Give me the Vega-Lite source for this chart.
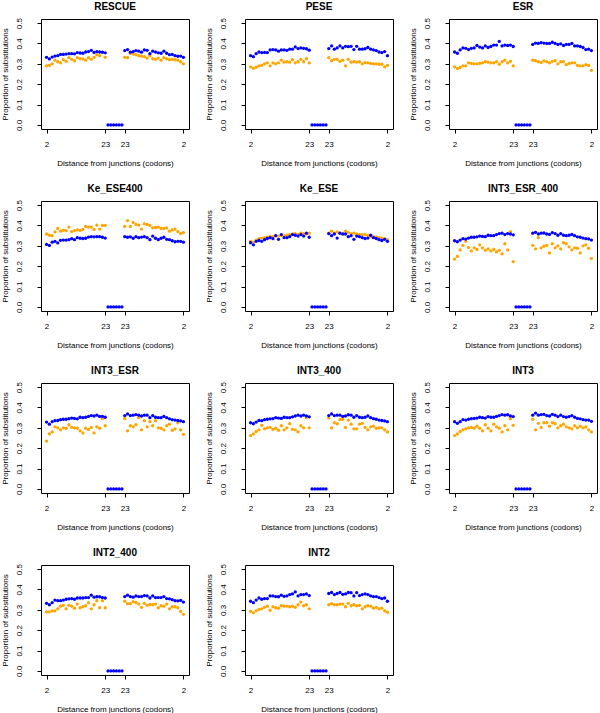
{
"$schema":"https://vega.github.io/schema/vega-lite/v6.json",
"background":"white",
"padding":{"left":0,"top":1,"right":0,"bottom":0},
"data":{"values":[
{"p":"RESCUE","i":0,"b":0.332,"o":0.290},{"p":"RESCUE","i":1,"b":0.324,"o":0.292},{"p":"RESCUE","i":2,"b":0.333,"o":0.300},{"p":"RESCUE","i":3,"b":0.338,"o":0.318},{"p":"RESCUE","i":4,"b":0.340,"o":0.310},{"p":"RESCUE","i":5,"b":0.346,"o":0.305},{"p":"RESCUE","i":6,"b":0.346,"o":0.320},{"p":"RESCUE","i":7,"b":0.348,"o":0.312},{"p":"RESCUE","i":8,"b":0.350,"o":0.330},{"p":"RESCUE","i":9,"b":0.350,"o":0.322},{"p":"RESCUE","i":10,"b":0.349,"o":0.315},{"p":"RESCUE","i":11,"b":0.355,"o":0.330},{"p":"RESCUE","i":12,"b":0.353,"o":0.325},{"p":"RESCUE","i":13,"b":0.352,"o":0.324},{"p":"RESCUE","i":14,"b":0.358,"o":0.318},{"p":"RESCUE","i":15,"b":0.360,"o":0.330},{"p":"RESCUE","i":16,"b":0.366,"o":0.322},{"p":"RESCUE","i":17,"b":0.356,"o":0.332},{"p":"RESCUE","i":18,"b":0.360,"o":0.345},{"p":"RESCUE","i":19,"b":0.358,"o":0.340},{"p":"RESCUE","i":20,"b":0.357,"o":0.355},{"p":"RESCUE","i":21,"b":0.354,"o":0.332},
{"p":"RESCUE","i":22,"b":0},{"p":"RESCUE","i":23,"b":0},{"p":"RESCUE","i":24,"b":0},{"p":"RESCUE","i":25,"b":0},{"p":"RESCUE","i":26,"b":0},{"p":"RESCUE","i":27,"b":0},
{"p":"RESCUE","i":28,"b":0.365,"o":0.332},{"p":"RESCUE","i":29,"b":0.370,"o":0.330},{"p":"RESCUE","i":30,"b":0.357,"o":0.352},{"p":"RESCUE","i":31,"b":0.360,"o":0.348},{"p":"RESCUE","i":32,"b":0.365,"o":0.345},{"p":"RESCUE","i":33,"b":0.362,"o":0.340},{"p":"RESCUE","i":34,"b":0.357,"o":0.338},{"p":"RESCUE","i":35,"b":0.368,"o":0.335},{"p":"RESCUE","i":36,"b":0.366,"o":0.328},{"p":"RESCUE","i":37,"b":0.350,"o":0.340},{"p":"RESCUE","i":38,"b":0.362,"o":0.325},{"p":"RESCUE","i":39,"b":0.358,"o":0.322},{"p":"RESCUE","i":40,"b":0.354,"o":0.328},{"p":"RESCUE","i":41,"b":0.352,"o":0.318},{"p":"RESCUE","i":42,"b":0.362,"o":0.330},{"p":"RESCUE","i":43,"b":0.352,"o":0.325},{"p":"RESCUE","i":44,"b":0.345,"o":0.320},{"p":"RESCUE","i":45,"b":0.346,"o":0.322},{"p":"RESCUE","i":46,"b":0.340,"o":0.320},{"p":"RESCUE","i":47,"b":0.337,"o":0.318},{"p":"RESCUE","i":48,"b":0.338,"o":0.310},{"p":"RESCUE","i":49,"b":0.332,"o":0.300},

{"p":"PESE","i":0,"b":0.340,"o":0.285},{"p":"PESE","i":1,"b":0.335,"o":0.278},{"p":"PESE","i":2,"b":0.350,"o":0.283},{"p":"PESE","i":3,"b":0.358,"o":0.290},{"p":"PESE","i":4,"b":0.355,"o":0.292},{"p":"PESE","i":5,"b":0.356,"o":0.300},{"p":"PESE","i":6,"b":0.355,"o":0.305},{"p":"PESE","i":7,"b":0.368,"o":0.290},{"p":"PESE","i":8,"b":0.370,"o":0.305},{"p":"PESE","i":9,"b":0.368,"o":0.300},{"p":"PESE","i":10,"b":0.362,"o":0.305},{"p":"PESE","i":11,"b":0.368,"o":0.318},{"p":"PESE","i":12,"b":0.368,"o":0.308},{"p":"PESE","i":13,"b":0.366,"o":0.310},{"p":"PESE","i":14,"b":0.372,"o":0.308},{"p":"PESE","i":15,"b":0.372,"o":0.320},{"p":"PESE","i":16,"b":0.383,"o":0.305},{"p":"PESE","i":17,"b":0.375,"o":0.310},{"p":"PESE","i":18,"b":0.378,"o":0.322},{"p":"PESE","i":19,"b":0.376,"o":0.310},{"p":"PESE","i":20,"b":0.374,"o":0.325},{"p":"PESE","i":21,"b":0.367,"o":0.305},
{"p":"PESE","i":22,"b":0},{"p":"PESE","i":23,"b":0},{"p":"PESE","i":24,"b":0},{"p":"PESE","i":25,"b":0},{"p":"PESE","i":26,"b":0},{"p":"PESE","i":27,"b":0},
{"p":"PESE","i":28,"b":0.375,"o":0.330},{"p":"PESE","i":29,"b":0.388,"o":0.315},{"p":"PESE","i":30,"b":0.372,"o":0.322},{"p":"PESE","i":31,"b":0.378,"o":0.322},{"p":"PESE","i":32,"b":0.388,"o":0.312},{"p":"PESE","i":33,"b":0.378,"o":0.318},{"p":"PESE","i":34,"b":0.386,"o":0.290},{"p":"PESE","i":35,"b":0.384,"o":0.322},{"p":"PESE","i":36,"b":0.386,"o":0.308},{"p":"PESE","i":37,"b":0.370,"o":0.310},{"p":"PESE","i":38,"b":0.386,"o":0.308},{"p":"PESE","i":39,"b":0.372,"o":0.310},{"p":"PESE","i":40,"b":0.372,"o":0.300},{"p":"PESE","i":41,"b":0.374,"o":0.306},{"p":"PESE","i":42,"b":0.380,"o":0.305},{"p":"PESE","i":43,"b":0.372,"o":0.302},{"p":"PESE","i":44,"b":0.368,"o":0.300},{"p":"PESE","i":45,"b":0.365,"o":0.300},{"p":"PESE","i":46,"b":0.358,"o":0.298},{"p":"PESE","i":47,"b":0.355,"o":0.298},{"p":"PESE","i":48,"b":0.360,"o":0.285},{"p":"PESE","i":49,"b":0.340,"o":0.292},

{"p":"ESR","i":0,"b":0.358,"o":0.285},{"p":"ESR","i":1,"b":0.352,"o":0.276},{"p":"ESR","i":2,"b":0.368,"o":0.282},{"p":"ESR","i":3,"b":0.378,"o":0.290},{"p":"ESR","i":4,"b":0.376,"o":0.290},{"p":"ESR","i":5,"b":0.370,"o":0.305},{"p":"ESR","i":6,"b":0.376,"o":0.302},{"p":"ESR","i":7,"b":0.378,"o":0.300},{"p":"ESR","i":8,"b":0.390,"o":0.300},{"p":"ESR","i":9,"b":0.382,"o":0.302},{"p":"ESR","i":10,"b":0.378,"o":0.305},{"p":"ESR","i":11,"b":0.388,"o":0.310},{"p":"ESR","i":12,"b":0.380,"o":0.308},{"p":"ESR","i":13,"b":0.385,"o":0.305},{"p":"ESR","i":14,"b":0.392,"o":0.305},{"p":"ESR","i":15,"b":0.392,"o":0.310},{"p":"ESR","i":16,"b":0.410,"o":0.298},{"p":"ESR","i":17,"b":0.388,"o":0.310},{"p":"ESR","i":18,"b":0.392,"o":0.318},{"p":"ESR","i":19,"b":0.390,"o":0.305},{"p":"ESR","i":20,"b":0.392,"o":0.312},{"p":"ESR","i":21,"b":0.385,"o":0.290},
{"p":"ESR","i":22,"b":0},{"p":"ESR","i":23,"b":0},{"p":"ESR","i":24,"b":0},{"p":"ESR","i":25,"b":0},{"p":"ESR","i":26,"b":0},{"p":"ESR","i":27,"b":0},
{"p":"ESR","i":28,"b":0.395,"o":0.318},{"p":"ESR","i":29,"b":0.402,"o":0.315},{"p":"ESR","i":30,"b":0.400,"o":0.310},{"p":"ESR","i":31,"b":0.404,"o":0.306},{"p":"ESR","i":32,"b":0.402,"o":0.314},{"p":"ESR","i":33,"b":0.400,"o":0.310},{"p":"ESR","i":34,"b":0.400,"o":0.305},{"p":"ESR","i":35,"b":0.406,"o":0.312},{"p":"ESR","i":36,"b":0.400,"o":0.315},{"p":"ESR","i":37,"b":0.395,"o":0.300},{"p":"ESR","i":38,"b":0.398,"o":0.310},{"p":"ESR","i":39,"b":0.390,"o":0.310},{"p":"ESR","i":40,"b":0.395,"o":0.296},{"p":"ESR","i":41,"b":0.395,"o":0.302},{"p":"ESR","i":42,"b":0.400,"o":0.305},{"p":"ESR","i":43,"b":0.388,"o":0.305},{"p":"ESR","i":44,"b":0.388,"o":0.292},{"p":"ESR","i":45,"b":0.385,"o":0.290},{"p":"ESR","i":46,"b":0.380,"o":0.290},{"p":"ESR","i":47,"b":0.370,"o":0.296},{"p":"ESR","i":48,"b":0.372,"o":0.292},{"p":"ESR","i":49,"b":0.365,"o":0.268},

{"p":"Ke_ESE400","i":0,"b":0.307,"o":0.358},{"p":"Ke_ESE400","i":1,"b":0.302,"o":0.352},{"p":"Ke_ESE400","i":2,"b":0.318,"o":0.350},{"p":"Ke_ESE400","i":3,"b":0.322,"o":0.368},{"p":"Ke_ESE400","i":4,"b":0.314,"o":0.385},{"p":"Ke_ESE400","i":5,"b":0.327,"o":0.372},{"p":"Ke_ESE400","i":6,"b":0.328,"o":0.376},{"p":"Ke_ESE400","i":7,"b":0.328,"o":0.375},{"p":"Ke_ESE400","i":8,"b":0.330,"o":0.392},{"p":"Ke_ESE400","i":9,"b":0.335,"o":0.370},{"p":"Ke_ESE400","i":10,"b":0.330,"o":0.375},{"p":"Ke_ESE400","i":11,"b":0.340,"o":0.378},{"p":"Ke_ESE400","i":12,"b":0.337,"o":0.376},{"p":"Ke_ESE400","i":13,"b":0.336,"o":0.380},{"p":"Ke_ESE400","i":14,"b":0.337,"o":0.395},{"p":"Ke_ESE400","i":15,"b":0.343,"o":0.392},{"p":"Ke_ESE400","i":16,"b":0.345,"o":0.392},{"p":"Ke_ESE400","i":17,"b":0.344,"o":0.380},{"p":"Ke_ESE400","i":18,"b":0.345,"o":0.402},{"p":"Ke_ESE400","i":19,"b":0.345,"o":0.382},{"p":"Ke_ESE400","i":20,"b":0.342,"o":0.400},{"p":"Ke_ESE400","i":21,"b":0.338,"o":0.400},
{"p":"Ke_ESE400","i":22,"b":0},{"p":"Ke_ESE400","i":23,"b":0},{"p":"Ke_ESE400","i":24,"b":0},{"p":"Ke_ESE400","i":25,"b":0},{"p":"Ke_ESE400","i":26,"b":0},{"p":"Ke_ESE400","i":27,"b":0},
{"p":"Ke_ESE400","i":28,"b":0.345,"o":0.395},{"p":"Ke_ESE400","i":29,"b":0.342,"o":0.424},{"p":"Ke_ESE400","i":30,"b":0.344,"o":0.395},{"p":"Ke_ESE400","i":31,"b":0.337,"o":0.415},{"p":"Ke_ESE400","i":32,"b":0.345,"o":0.405},{"p":"Ke_ESE400","i":33,"b":0.340,"o":0.402},{"p":"Ke_ESE400","i":34,"b":0.343,"o":0.382},{"p":"Ke_ESE400","i":35,"b":0.345,"o":0.408},{"p":"Ke_ESE400","i":36,"b":0.340,"o":0.405},{"p":"Ke_ESE400","i":37,"b":0.330,"o":0.400},{"p":"Ke_ESE400","i":38,"b":0.348,"o":0.388},{"p":"Ke_ESE400","i":39,"b":0.337,"o":0.390},{"p":"Ke_ESE400","i":40,"b":0.330,"o":0.392},{"p":"Ke_ESE400","i":41,"b":0.337,"o":0.385},{"p":"Ke_ESE400","i":42,"b":0.342,"o":0.385},{"p":"Ke_ESE400","i":43,"b":0.332,"o":0.388},{"p":"Ke_ESE400","i":44,"b":0.330,"o":0.372},{"p":"Ke_ESE400","i":45,"b":0.325,"o":0.378},{"p":"Ke_ESE400","i":46,"b":0.320,"o":0.382},{"p":"Ke_ESE400","i":47,"b":0.322,"o":0.370},{"p":"Ke_ESE400","i":48,"b":0.322,"o":0.360},{"p":"Ke_ESE400","i":49,"b":0.318,"o":0.365},

{"p":"Ke_ESE","i":0,"b":0.315,"o":0.322},{"p":"Ke_ESE","i":1,"b":0.305,"o":0.318},{"p":"Ke_ESE","i":2,"b":0.322,"o":0.328},{"p":"Ke_ESE","i":3,"b":0.326,"o":0.335},{"p":"Ke_ESE","i":4,"b":0.322,"o":0.338},{"p":"Ke_ESE","i":5,"b":0.330,"o":0.340},{"p":"Ke_ESE","i":6,"b":0.336,"o":0.343},{"p":"Ke_ESE","i":7,"b":0.340,"o":0.345},{"p":"Ke_ESE","i":8,"b":0.335,"o":0.345},{"p":"Ke_ESE","i":9,"b":0.350,"o":0.350},{"p":"Ke_ESE","i":10,"b":0.332,"o":0.348},{"p":"Ke_ESE","i":11,"b":0.355,"o":0.352},{"p":"Ke_ESE","i":12,"b":0.340,"o":0.350},{"p":"Ke_ESE","i":13,"b":0.340,"o":0.352},{"p":"Ke_ESE","i":14,"b":0.345,"o":0.355},{"p":"Ke_ESE","i":15,"b":0.355,"o":0.358},{"p":"Ke_ESE","i":16,"b":0.352,"o":0.360},{"p":"Ke_ESE","i":17,"b":0.348,"o":0.356},{"p":"Ke_ESE","i":18,"b":0.355,"o":0.362},{"p":"Ke_ESE","i":19,"b":0.348,"o":0.360},{"p":"Ke_ESE","i":20,"b":0.362,"o":0.358},{"p":"Ke_ESE","i":21,"b":0.342,"o":0.362},
{"p":"Ke_ESE","i":22,"b":0},{"p":"Ke_ESE","i":23,"b":0},{"p":"Ke_ESE","i":24,"b":0},{"p":"Ke_ESE","i":25,"b":0},{"p":"Ke_ESE","i":26,"b":0},{"p":"Ke_ESE","i":27,"b":0},
{"p":"Ke_ESE","i":28,"b":0.360,"o":0.362},{"p":"Ke_ESE","i":29,"b":0.350,"o":0.372},{"p":"Ke_ESE","i":30,"b":0.358,"o":0.362},{"p":"Ke_ESE","i":31,"b":0.338,"o":0.368},{"p":"Ke_ESE","i":32,"b":0.362,"o":0.362},{"p":"Ke_ESE","i":33,"b":0.358,"o":0.360},{"p":"Ke_ESE","i":34,"b":0.358,"o":0.372},{"p":"Ke_ESE","i":35,"b":0.345,"o":0.365},{"p":"Ke_ESE","i":36,"b":0.350,"o":0.360},{"p":"Ke_ESE","i":37,"b":0.332,"o":0.362},{"p":"Ke_ESE","i":38,"b":0.348,"o":0.358},{"p":"Ke_ESE","i":39,"b":0.345,"o":0.355},{"p":"Ke_ESE","i":40,"b":0.340,"o":0.355},{"p":"Ke_ESE","i":41,"b":0.336,"o":0.355},{"p":"Ke_ESE","i":42,"b":0.338,"o":0.352},{"p":"Ke_ESE","i":43,"b":0.352,"o":0.345},{"p":"Ke_ESE","i":44,"b":0.340,"o":0.345},{"p":"Ke_ESE","i":45,"b":0.336,"o":0.342},{"p":"Ke_ESE","i":46,"b":0.330,"o":0.340},{"p":"Ke_ESE","i":47,"b":0.326,"o":0.338},{"p":"Ke_ESE","i":48,"b":0.332,"o":0.335},{"p":"Ke_ESE","i":49,"b":0.322,"o":0.330},

{"p":"INT3_ESR_400","i":0,"b":0.325,"o":0.235},{"p":"INT3_ESR_400","i":1,"b":0.320,"o":0.248},{"p":"INT3_ESR_400","i":2,"b":0.328,"o":0.280},{"p":"INT3_ESR_400","i":3,"b":0.335,"o":0.302},{"p":"INT3_ESR_400","i":4,"b":0.333,"o":0.322},{"p":"INT3_ESR_400","i":5,"b":0.338,"o":0.292},{"p":"INT3_ESR_400","i":6,"b":0.342,"o":0.275},{"p":"INT3_ESR_400","i":7,"b":0.342,"o":0.290},{"p":"INT3_ESR_400","i":8,"b":0.344,"o":0.282},{"p":"INT3_ESR_400","i":9,"b":0.348,"o":0.305},{"p":"INT3_ESR_400","i":10,"b":0.346,"o":0.290},{"p":"INT3_ESR_400","i":11,"b":0.345,"o":0.278},{"p":"INT3_ESR_400","i":12,"b":0.352,"o":0.285},{"p":"INT3_ESR_400","i":13,"b":0.350,"o":0.275},{"p":"INT3_ESR_400","i":14,"b":0.350,"o":0.282},{"p":"INT3_ESR_400","i":15,"b":0.355,"o":0.270},{"p":"INT3_ESR_400","i":16,"b":0.360,"o":0.278},{"p":"INT3_ESR_400","i":17,"b":0.362,"o":0.260},{"p":"INT3_ESR_400","i":18,"b":0.355,"o":0.310},{"p":"INT3_ESR_400","i":19,"b":0.360,"o":0.280},{"p":"INT3_ESR_400","i":20,"b":0.358,"o":0.370},{"p":"INT3_ESR_400","i":21,"b":0.354,"o":0.222},
{"p":"INT3_ESR_400","i":22,"b":0},{"p":"INT3_ESR_400","i":23,"b":0},{"p":"INT3_ESR_400","i":24,"b":0},{"p":"INT3_ESR_400","i":25,"b":0},{"p":"INT3_ESR_400","i":26,"b":0},{"p":"INT3_ESR_400","i":27,"b":0},
{"p":"INT3_ESR_400","i":28,"b":0.362,"o":0.302},{"p":"INT3_ESR_400","i":29,"b":0.366,"o":0.285},{"p":"INT3_ESR_400","i":30,"b":0.358,"o":0.340},{"p":"INT3_ESR_400","i":31,"b":0.362,"o":0.290},{"p":"INT3_ESR_400","i":32,"b":0.363,"o":0.298},{"p":"INT3_ESR_400","i":33,"b":0.358,"o":0.302},{"p":"INT3_ESR_400","i":34,"b":0.356,"o":0.265},{"p":"INT3_ESR_400","i":35,"b":0.365,"o":0.310},{"p":"INT3_ESR_400","i":36,"b":0.360,"o":0.290},{"p":"INT3_ESR_400","i":37,"b":0.352,"o":0.300},{"p":"INT3_ESR_400","i":38,"b":0.360,"o":0.285},{"p":"INT3_ESR_400","i":39,"b":0.352,"o":0.315},{"p":"INT3_ESR_400","i":40,"b":0.350,"o":0.310},{"p":"INT3_ESR_400","i":41,"b":0.352,"o":0.295},{"p":"INT3_ESR_400","i":42,"b":0.356,"o":0.280},{"p":"INT3_ESR_400","i":43,"b":0.350,"o":0.290},{"p":"INT3_ESR_400","i":44,"b":0.344,"o":0.288},{"p":"INT3_ESR_400","i":45,"b":0.342,"o":0.265},{"p":"INT3_ESR_400","i":46,"b":0.338,"o":0.300},{"p":"INT3_ESR_400","i":47,"b":0.335,"o":0.305},{"p":"INT3_ESR_400","i":48,"b":0.334,"o":0.288},{"p":"INT3_ESR_400","i":49,"b":0.328,"o":0.238},

{"p":"INT3_ESR","i":0,"b":0.328,"o":0.235},{"p":"INT3_ESR","i":1,"b":0.318,"o":0.270},{"p":"INT3_ESR","i":2,"b":0.330,"o":0.280},{"p":"INT3_ESR","i":3,"b":0.335,"o":0.305},{"p":"INT3_ESR","i":4,"b":0.336,"o":0.300},{"p":"INT3_ESR","i":5,"b":0.340,"o":0.290},{"p":"INT3_ESR","i":6,"b":0.342,"o":0.300},{"p":"INT3_ESR","i":7,"b":0.342,"o":0.298},{"p":"INT3_ESR","i":8,"b":0.345,"o":0.315},{"p":"INT3_ESR","i":9,"b":0.348,"o":0.302},{"p":"INT3_ESR","i":10,"b":0.346,"o":0.300},{"p":"INT3_ESR","i":11,"b":0.344,"o":0.298},{"p":"INT3_ESR","i":12,"b":0.352,"o":0.285},{"p":"INT3_ESR","i":13,"b":0.350,"o":0.275},{"p":"INT3_ESR","i":14,"b":0.352,"o":0.298},{"p":"INT3_ESR","i":15,"b":0.356,"o":0.292},{"p":"INT3_ESR","i":16,"b":0.360,"o":0.302},{"p":"INT3_ESR","i":17,"b":0.358,"o":0.275},{"p":"INT3_ESR","i":18,"b":0.362,"o":0.305},{"p":"INT3_ESR","i":19,"b":0.356,"o":0.298},{"p":"INT3_ESR","i":20,"b":0.356,"o":0.345},{"p":"INT3_ESR","i":21,"b":0.352,"o":0.310},
{"p":"INT3_ESR","i":22,"b":0},{"p":"INT3_ESR","i":23,"b":0},{"p":"INT3_ESR","i":24,"b":0},{"p":"INT3_ESR","i":25,"b":0},{"p":"INT3_ESR","i":26,"b":0},{"p":"INT3_ESR","i":27,"b":0},
{"p":"INT3_ESR","i":28,"b":0.360,"o":0.345},{"p":"INT3_ESR","i":29,"b":0.368,"o":0.285},{"p":"INT3_ESR","i":30,"b":0.360,"o":0.310},{"p":"INT3_ESR","i":31,"b":0.362,"o":0.305},{"p":"INT3_ESR","i":32,"b":0.365,"o":0.315},{"p":"INT3_ESR","i":33,"b":0.362,"o":0.350},{"p":"INT3_ESR","i":34,"b":0.358,"o":0.290},{"p":"INT3_ESR","i":35,"b":0.362,"o":0.335},{"p":"INT3_ESR","i":36,"b":0.362,"o":0.305},{"p":"INT3_ESR","i":37,"b":0.350,"o":0.330},{"p":"INT3_ESR","i":38,"b":0.360,"o":0.310},{"p":"INT3_ESR","i":39,"b":0.352,"o":0.335},{"p":"INT3_ESR","i":40,"b":0.350,"o":0.300},{"p":"INT3_ESR","i":41,"b":0.350,"o":0.298},{"p":"INT3_ESR","i":42,"b":0.356,"o":0.290},{"p":"INT3_ESR","i":43,"b":0.350,"o":0.310},{"p":"INT3_ESR","i":44,"b":0.344,"o":0.318},{"p":"INT3_ESR","i":45,"b":0.340,"o":0.288},{"p":"INT3_ESR","i":46,"b":0.338,"o":0.295},{"p":"INT3_ESR","i":47,"b":0.336,"o":0.325},{"p":"INT3_ESR","i":48,"b":0.334,"o":0.290},{"p":"INT3_ESR","i":49,"b":0.330,"o":0.268},

{"p":"INT3_400","i":0,"b":0.325,"o":0.262},{"p":"INT3_400","i":1,"b":0.320,"o":0.270},{"p":"INT3_400","i":2,"b":0.328,"o":0.282},{"p":"INT3_400","i":3,"b":0.336,"o":0.290},{"p":"INT3_400","i":4,"b":0.335,"o":0.312},{"p":"INT3_400","i":5,"b":0.340,"o":0.295},{"p":"INT3_400","i":6,"b":0.342,"o":0.300},{"p":"INT3_400","i":7,"b":0.344,"o":0.302},{"p":"INT3_400","i":8,"b":0.345,"o":0.292},{"p":"INT3_400","i":9,"b":0.350,"o":0.298},{"p":"INT3_400","i":10,"b":0.348,"o":0.288},{"p":"INT3_400","i":11,"b":0.346,"o":0.310},{"p":"INT3_400","i":12,"b":0.352,"o":0.290},{"p":"INT3_400","i":13,"b":0.350,"o":0.300},{"p":"INT3_400","i":14,"b":0.350,"o":0.320},{"p":"INT3_400","i":15,"b":0.354,"o":0.292},{"p":"INT3_400","i":16,"b":0.358,"o":0.290},{"p":"INT3_400","i":17,"b":0.362,"o":0.280},{"p":"INT3_400","i":18,"b":0.358,"o":0.310},{"p":"INT3_400","i":19,"b":0.362,"o":0.300},{"p":"INT3_400","i":20,"b":0.358,"o":0.350},{"p":"INT3_400","i":21,"b":0.354,"o":0.300},
{"p":"INT3_400","i":22,"b":0},{"p":"INT3_400","i":23,"b":0},{"p":"INT3_400","i":24,"b":0},{"p":"INT3_400","i":25,"b":0},{"p":"INT3_400","i":26,"b":0},{"p":"INT3_400","i":27,"b":0},
{"p":"INT3_400","i":28,"b":0.360,"o":0.348},{"p":"INT3_400","i":29,"b":0.368,"o":0.300},{"p":"INT3_400","i":30,"b":0.360,"o":0.325},{"p":"INT3_400","i":31,"b":0.362,"o":0.320},{"p":"INT3_400","i":32,"b":0.362,"o":0.340},{"p":"INT3_400","i":33,"b":0.356,"o":0.342},{"p":"INT3_400","i":34,"b":0.358,"o":0.302},{"p":"INT3_400","i":35,"b":0.364,"o":0.338},{"p":"INT3_400","i":36,"b":0.362,"o":0.318},{"p":"INT3_400","i":37,"b":0.352,"o":0.295},{"p":"INT3_400","i":38,"b":0.360,"o":0.295},{"p":"INT3_400","i":39,"b":0.352,"o":0.318},{"p":"INT3_400","i":40,"b":0.350,"o":0.322},{"p":"INT3_400","i":41,"b":0.352,"o":0.302},{"p":"INT3_400","i":42,"b":0.358,"o":0.290},{"p":"INT3_400","i":43,"b":0.350,"o":0.305},{"p":"INT3_400","i":44,"b":0.345,"o":0.308},{"p":"INT3_400","i":45,"b":0.342,"o":0.298},{"p":"INT3_400","i":46,"b":0.338,"o":0.300},{"p":"INT3_400","i":47,"b":0.336,"o":0.300},{"p":"INT3_400","i":48,"b":0.334,"o":0.290},{"p":"INT3_400","i":49,"b":0.330,"o":0.280},

{"p":"INT3","i":0,"b":0.330,"o":0.262},{"p":"INT3","i":1,"b":0.322,"o":0.270},{"p":"INT3","i":2,"b":0.330,"o":0.282},{"p":"INT3","i":3,"b":0.340,"o":0.290},{"p":"INT3","i":4,"b":0.338,"o":0.295},{"p":"INT3","i":5,"b":0.342,"o":0.300},{"p":"INT3","i":6,"b":0.345,"o":0.302},{"p":"INT3","i":7,"b":0.346,"o":0.298},{"p":"INT3","i":8,"b":0.348,"o":0.308},{"p":"INT3","i":9,"b":0.352,"o":0.298},{"p":"INT3","i":10,"b":0.350,"o":0.285},{"p":"INT3","i":11,"b":0.348,"o":0.315},{"p":"INT3","i":12,"b":0.355,"o":0.298},{"p":"INT3","i":13,"b":0.352,"o":0.285},{"p":"INT3","i":14,"b":0.352,"o":0.318},{"p":"INT3","i":15,"b":0.356,"o":0.305},{"p":"INT3","i":16,"b":0.360,"o":0.298},{"p":"INT3","i":17,"b":0.365,"o":0.280},{"p":"INT3","i":18,"b":0.362,"o":0.310},{"p":"INT3","i":19,"b":0.364,"o":0.290},{"p":"INT3","i":20,"b":0.358,"o":0.345},{"p":"INT3","i":21,"b":0.355,"o":0.312},
{"p":"INT3","i":22,"b":0},{"p":"INT3","i":23,"b":0},{"p":"INT3","i":24,"b":0},{"p":"INT3","i":25,"b":0},{"p":"INT3","i":26,"b":0},{"p":"INT3","i":27,"b":0},
{"p":"INT3","i":28,"b":0.362,"o":0.342},{"p":"INT3","i":29,"b":0.372,"o":0.290},{"p":"INT3","i":30,"b":0.362,"o":0.322},{"p":"INT3","i":31,"b":0.365,"o":0.302},{"p":"INT3","i":32,"b":0.366,"o":0.325},{"p":"INT3","i":33,"b":0.360,"o":0.325},{"p":"INT3","i":34,"b":0.358,"o":0.308},{"p":"INT3","i":35,"b":0.366,"o":0.325},{"p":"INT3","i":36,"b":0.362,"o":0.320},{"p":"INT3","i":37,"b":0.355,"o":0.300},{"p":"INT3","i":38,"b":0.362,"o":0.310},{"p":"INT3","i":39,"b":0.355,"o":0.318},{"p":"INT3","i":40,"b":0.352,"o":0.305},{"p":"INT3","i":41,"b":0.355,"o":0.300},{"p":"INT3","i":42,"b":0.360,"o":0.295},{"p":"INT3","i":43,"b":0.352,"o":0.310},{"p":"INT3","i":44,"b":0.346,"o":0.300},{"p":"INT3","i":45,"b":0.344,"o":0.308},{"p":"INT3","i":46,"b":0.340,"o":0.300},{"p":"INT3","i":47,"b":0.338,"o":0.305},{"p":"INT3","i":48,"b":0.338,"o":0.290},{"p":"INT3","i":49,"b":0.332,"o":0.280},

{"p":"INT2_400","i":0,"b":0.332,"o":0.290},{"p":"INT2_400","i":1,"b":0.325,"o":0.290},{"p":"INT2_400","i":2,"b":0.335,"o":0.295},{"p":"INT2_400","i":3,"b":0.348,"o":0.295},{"p":"INT2_400","i":4,"b":0.345,"o":0.305},{"p":"INT2_400","i":5,"b":0.345,"o":0.318},{"p":"INT2_400","i":6,"b":0.348,"o":0.322},{"p":"INT2_400","i":7,"b":0.352,"o":0.305},{"p":"INT2_400","i":8,"b":0.354,"o":0.322},{"p":"INT2_400","i":9,"b":0.355,"o":0.318},{"p":"INT2_400","i":10,"b":0.352,"o":0.308},{"p":"INT2_400","i":11,"b":0.358,"o":0.328},{"p":"INT2_400","i":12,"b":0.358,"o":0.310},{"p":"INT2_400","i":13,"b":0.358,"o":0.315},{"p":"INT2_400","i":14,"b":0.360,"o":0.320},{"p":"INT2_400","i":15,"b":0.360,"o":0.335},{"p":"INT2_400","i":16,"b":0.372,"o":0.305},{"p":"INT2_400","i":17,"b":0.362,"o":0.325},{"p":"INT2_400","i":18,"b":0.364,"o":0.345},{"p":"INT2_400","i":19,"b":0.364,"o":0.310},{"p":"INT2_400","i":20,"b":0.360,"o":0.345},{"p":"INT2_400","i":21,"b":0.358,"o":0.310},
{"p":"INT2_400","i":22,"b":0},{"p":"INT2_400","i":23,"b":0},{"p":"INT2_400","i":24,"b":0},{"p":"INT2_400","i":25,"b":0},{"p":"INT2_400","i":26,"b":0},{"p":"INT2_400","i":27,"b":0},
{"p":"INT2_400","i":28,"b":0.365,"o":0.342},{"p":"INT2_400","i":29,"b":0.372,"o":0.330},{"p":"INT2_400","i":30,"b":0.365,"o":0.330},{"p":"INT2_400","i":31,"b":0.362,"o":0.340},{"p":"INT2_400","i":32,"b":0.368,"o":0.336},{"p":"INT2_400","i":33,"b":0.365,"o":0.328},{"p":"INT2_400","i":34,"b":0.365,"o":0.312},{"p":"INT2_400","i":35,"b":0.370,"o":0.332},{"p":"INT2_400","i":36,"b":0.368,"o":0.322},{"p":"INT2_400","i":37,"b":0.358,"o":0.326},{"p":"INT2_400","i":38,"b":0.368,"o":0.325},{"p":"INT2_400","i":39,"b":0.360,"o":0.328},{"p":"INT2_400","i":40,"b":0.360,"o":0.310},{"p":"INT2_400","i":41,"b":0.360,"o":0.320},{"p":"INT2_400","i":42,"b":0.365,"o":0.318},{"p":"INT2_400","i":43,"b":0.355,"o":0.328},{"p":"INT2_400","i":44,"b":0.354,"o":0.305},{"p":"INT2_400","i":45,"b":0.350,"o":0.315},{"p":"INT2_400","i":46,"b":0.345,"o":0.315},{"p":"INT2_400","i":47,"b":0.344,"o":0.310},{"p":"INT2_400","i":48,"b":0.346,"o":0.292},{"p":"INT2_400","i":49,"b":0.338,"o":0.278},

{"p":"INT2","i":0,"b":0.342,"o":0.292},{"p":"INT2","i":1,"b":0.335,"o":0.285},{"p":"INT2","i":2,"b":0.348,"o":0.295},{"p":"INT2","i":3,"b":0.358,"o":0.302},{"p":"INT2","i":4,"b":0.352,"o":0.305},{"p":"INT2","i":5,"b":0.355,"o":0.312},{"p":"INT2","i":6,"b":0.355,"o":0.318},{"p":"INT2","i":7,"b":0.368,"o":0.298},{"p":"INT2","i":8,"b":0.368,"o":0.315},{"p":"INT2","i":9,"b":0.365,"o":0.310},{"p":"INT2","i":10,"b":0.364,"o":0.308},{"p":"INT2","i":11,"b":0.372,"o":0.320},{"p":"INT2","i":12,"b":0.366,"o":0.318},{"p":"INT2","i":13,"b":0.368,"o":0.318},{"p":"INT2","i":14,"b":0.375,"o":0.315},{"p":"INT2","i":15,"b":0.378,"o":0.318},{"p":"INT2","i":16,"b":0.388,"o":0.312},{"p":"INT2","i":17,"b":0.368,"o":0.325},{"p":"INT2","i":18,"b":0.375,"o":0.338},{"p":"INT2","i":19,"b":0.375,"o":0.320},{"p":"INT2","i":20,"b":0.378,"o":0.325},{"p":"INT2","i":21,"b":0.370,"o":0.305},
{"p":"INT2","i":22,"b":0},{"p":"INT2","i":23,"b":0},{"p":"INT2","i":24,"b":0},{"p":"INT2","i":25,"b":0},{"p":"INT2","i":26,"b":0},{"p":"INT2","i":27,"b":0},
{"p":"INT2","i":28,"b":0.380,"o":0.325},{"p":"INT2","i":29,"b":0.385,"o":0.330},{"p":"INT2","i":30,"b":0.375,"o":0.325},{"p":"INT2","i":31,"b":0.380,"o":0.325},{"p":"INT2","i":32,"b":0.385,"o":0.328},{"p":"INT2","i":33,"b":0.376,"o":0.328},{"p":"INT2","i":34,"b":0.378,"o":0.315},{"p":"INT2","i":35,"b":0.385,"o":0.332},{"p":"INT2","i":36,"b":0.384,"o":0.320},{"p":"INT2","i":37,"b":0.368,"o":0.325},{"p":"INT2","i":38,"b":0.384,"o":0.320},{"p":"INT2","i":39,"b":0.370,"o":0.322},{"p":"INT2","i":40,"b":0.375,"o":0.305},{"p":"INT2","i":41,"b":0.378,"o":0.315},{"p":"INT2","i":42,"b":0.375,"o":0.320},{"p":"INT2","i":43,"b":0.368,"o":0.318},{"p":"INT2","i":44,"b":0.365,"o":0.308},{"p":"INT2","i":45,"b":0.365,"o":0.312},{"p":"INT2","i":46,"b":0.360,"o":0.305},{"p":"INT2","i":47,"b":0.355,"o":0.308},{"p":"INT2","i":48,"b":0.358,"o":0.295},{"p":"INT2","i":49,"b":0.342,"o":0.288}
]},
"facet":{"field":"p","type":"nominal","sort":["RESCUE","PESE","ESR","Ke_ESE400","Ke_ESE","INT3_ESR_400","INT3_ESR","INT3_400","INT3","INT2_400","INT2"],"header":{"title":null}},
"columns":3,
"spacing":{"row":15,"column":14},
"resolve":{"axis":{"x":"independent","y":"independent"}},
"spec":{
"width":148,"height":110,
"encoding":{"x":{"field":"i","type":"quantitative","scale":{"domain":[-2,51],"nice":false,"zero":false},
"axis":{"values":[0,21,28,49],"labelExpr":"datum.value==0||datum.value==49?'2':'23'","title":"Distance from junctions (codons)","labelPadding":7,"titlePadding":11,"labelFlush":false,"labelOverlap":false}}},
"layer":[
{"mark":{"type":"circle","size":11,"opacity":1,"color":"#FFA500"},
"encoding":{"y":{"field":"o","type":"quantitative","title":"Proportion of substitutions","scale":{"domain":[-0.02,0.52],"nice":false,"zero":false},
"axis":{"values":[0,0.1,0.2,0.3,0.4,0.5],"format":".1f","labelAngle":270,"labelAlign":"center","labelBaseline":"bottom","labelPadding":14,"titlePadding":6,"labelFlush":false,"labelOverlap":false}}}},
{"mark":{"type":"circle","size":11,"opacity":1,"color":"#0000FF"},
"encoding":{"y":{"field":"b","type":"quantitative","title":"Proportion of substitutions","scale":{"domain":[-0.02,0.52],"nice":false,"zero":false},
"axis":{"values":[0,0.1,0.2,0.3,0.4,0.5],"format":".1f","labelAngle":270,"labelAlign":"center","labelBaseline":"bottom","labelPadding":14,"titlePadding":6,"labelFlush":false,"labelOverlap":false}}}}
]},
"config":{
"font":"Liberation Sans",
"view":{"stroke":"#000000","strokeWidth":1},
"axis":{"domain":false,"grid":false,"ticks":true,"tickSize":4,"tickColor":"#000000","tickWidth":1,"labelFont":"Liberation Sans","labelFontSize":8,"labelColor":"#000000","titleFont":"Liberation Sans","titleFontSize":8,"titleFontWeight":"normal","titleColor":"#000000"},
"header":{"labelFont":"Liberation Sans","labelFontSize":10,"labelFontWeight":"bold","labelColor":"#000000","labelPadding":6}
}
}
